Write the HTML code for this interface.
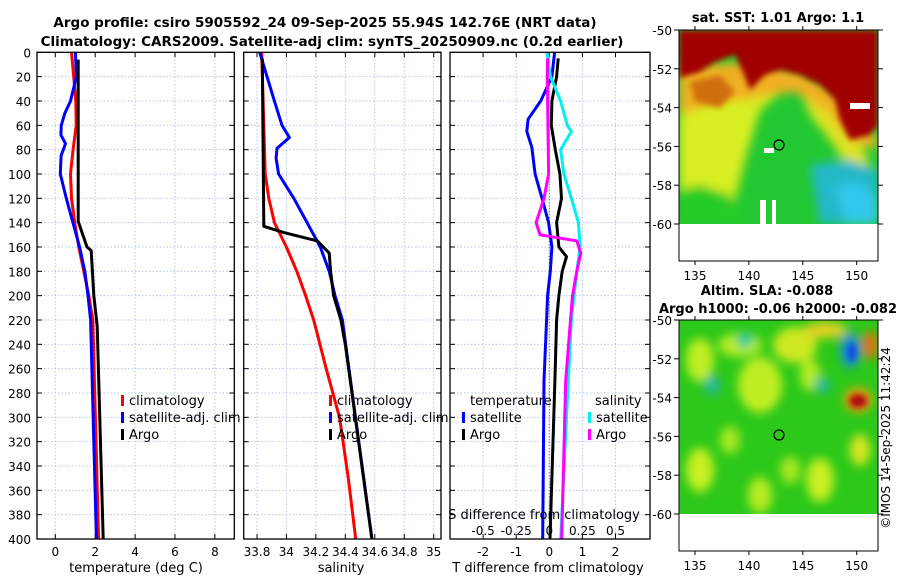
<!DOCTYPE html>
<html><head><meta charset="utf-8"><style>
body{margin:0;background:#fff;}
svg{display:block;font-family:"DejaVu Sans","Liberation Sans",sans-serif;}
</style></head><body>
<svg id="chart" width="900" height="580" viewBox="0 0 900 580" xmlns="http://www.w3.org/2000/svg">
<defs>
<filter id="bl" x="-20%" y="-20%" width="140%" height="140%"><feGaussianBlur stdDeviation="5"/></filter>
<filter id="bl2" x="-20%" y="-20%" width="140%" height="140%"><feGaussianBlur stdDeviation="3"/></filter>
<clipPath id="cm1"><rect x="679" y="30" width="199" height="194"/></clipPath>
<clipPath id="cm2"><rect x="679" y="320" width="199" height="194"/></clipPath>
</defs>
<text x="325" y="27" font-size="13.5" font-weight="bold" text-anchor="middle">Argo profile: csiro 5905592_24 09-Sep-2025 55.94S 142.76E (NRT data)</text>
<text x="332" y="46" font-size="13.5" font-weight="bold" text-anchor="middle">Climatology: CARS2009. Satellite-adj clim: synTS_20250909.nc (0.2d earlier)</text>

<!-- top map -->
<g>
<text x="778" y="22" font-size="13" font-weight="bold" text-anchor="middle">sat. SST: 1.01 Argo: 1.1</text>
<g clip-path="url(#cm1)">
<rect x="679" y="30" width="199" height="194" fill="#22c832"/>
<g filter="url(#bl)">
<polygon points="679,70 760,70 790,85 760,110 745,160 735,200 700,190 679,200" fill="#d8ee20"/>
<polygon points="679,190 700,185 730,195 745,224 679,224" fill="#28cc28"/>
<polygon points="800,90 840,105 860,140 870,165 850,170 830,140 810,115" fill="#e0e420"/>
<polygon points="810,165 850,160 878,170 878,224 820,224" fill="#20b8c8"/>
<polygon points="835,185 860,182 878,200 878,224 845,224" fill="#30c8ec"/>
<polygon points="679,65 760,62 800,72 840,95 870,130 878,140 878,150 850,140 825,110 795,92 770,95 745,100 720,100 700,108 679,115" fill="#f0b020"/>
</g>
<g filter="url(#bl2)">
<polygon points="679,30 878,30 878,125 870,135 850,140 840,120 835,100 820,85 800,75 780,70 765,75 750,90 742,70 735,55 715,62 700,72 679,78" fill="#a00000"/>
<polygon points="690,82 720,75 735,92 720,108 695,102" fill="#d07010"/>
</g>
<rect x="850" y="103" width="20" height="6" fill="#fff"/>
<rect x="764" y="148" width="10" height="5" fill="#fff"/>
<rect x="760" y="200" width="6" height="24" fill="#fff"/>
<rect x="772" y="200" width="4" height="24" fill="#fff"/>
</g>
<rect x="679" y="224" width="199" height="37" fill="#fff"/>
<rect x="679" y="30" width="199" height="231" fill="none" stroke="#000" stroke-width="1"/>
<circle cx="779" cy="145" r="5" fill="none" stroke="#000" stroke-width="1.2"/>
</g>

<!-- bottom map -->
<g>
<text x="767" y="295" font-size="13" font-weight="bold" text-anchor="middle">Altim. SLA: -0.088</text>
<text x="778" y="313" font-size="13" font-weight="bold" text-anchor="middle">Argo h1000: -0.06 h2000: -0.082</text>
<g clip-path="url(#cm2)">
<rect x="679" y="320" width="199" height="194" fill="#2cc81a"/>
<g filter="url(#bl)">
<ellipse cx="700" cy="360" rx="14" ry="22" fill="#c0ee20"/>
<ellipse cx="740" cy="345" rx="22" ry="12" fill="#b8ec20"/>
<ellipse cx="760" cy="385" rx="22" ry="28" fill="#c0ee20"/>
<ellipse cx="795" cy="345" rx="22" ry="18" fill="#d0e820"/>
<ellipse cx="825" cy="330" rx="22" ry="8" fill="#e8d020"/>
<ellipse cx="810" cy="375" rx="10" ry="16" fill="#b8ec20"/>
<ellipse cx="700" cy="470" rx="14" ry="22" fill="#c8f020"/>
<ellipse cx="730" cy="440" rx="10" ry="14" fill="#a8e820"/>
<ellipse cx="760" cy="495" rx="12" ry="18" fill="#b8ec20"/>
<ellipse cx="790" cy="470" rx="10" ry="14" fill="#a8e820"/>
<ellipse cx="820" cy="480" rx="14" ry="22" fill="#c8f020"/>
<ellipse cx="860" cy="450" rx="10" ry="16" fill="#d8e820"/>
<ellipse cx="745" cy="340" rx="8" ry="8" fill="#20c8a0"/>
<ellipse cx="712" cy="385" rx="8" ry="10" fill="#20b8a0"/>
<ellipse cx="822" cy="385" rx="8" ry="8" fill="#20b8a0"/>
<ellipse cx="850" cy="350" rx="10" ry="18" fill="#1890d0"/>
<ellipse cx="870" cy="345" rx="8" ry="14" fill="#e07010"/>
<ellipse cx="858" cy="400" rx="14" ry="12" fill="#f0a010"/>
</g>
<g filter="url(#bl2)">
<ellipse cx="852" cy="352" rx="5" ry="9" fill="#1050e0"/>
<ellipse cx="858" cy="401" rx="9" ry="7" fill="#b01010"/>
</g>
</g>
<rect x="679" y="514" width="199" height="37" fill="#fff"/>
<rect x="679" y="320" width="199" height="231" fill="none" stroke="#000" stroke-width="1"/>
<circle cx="779" cy="435" r="5" fill="none" stroke="#000" stroke-width="1.2"/>
</g>
<text transform="translate(890,438) rotate(-90)" font-size="12" text-anchor="middle">©IMOS 14-Sep-2025 11:42:24</text>
<g id="plots"></g>
</svg>
<script>
// ---- data ----
const depthTicks = [0,20,40,60,80,100,120,140,160,180,200,220,240,260,280,300,320,340,360,380,400];
const tTicks = [0,2,4,6,8];
const sTicks = [33.8,34,34.2,34.4,34.6,34.8,35];
const dTicksT = [-2,-1,0,1,2];
const dTicksS = [-0.5,-0.25,0,0.25,0.5];
const dTicksSLabels = ['-0.5','-0.25','0','0.25','0.5'];
const latTicks = [-50,-52,-54,-56,-58,-60];
const lonTicks = [135,140,145,150];

const tempClimDepth = [0,20,40,60,80,100,120,140,160,180,200,220,400];
const tempClim      = [0.81,0.92,1.03,1.05,0.89,0.76,0.81,0.97,1.18,1.43,1.68,1.88,2.17];
const tempSatDepth  = [0,20,40,50,60,68,75,85,100,120,140,160,180,200,220,400];
const tempSat       = [1.01,1.06,0.76,0.48,0.30,0.28,0.51,0.29,0.25,0.55,0.88,1.22,1.48,1.64,1.77,2.06];
const tempArgoDepth = [6,139,160,163,200,225,400];
const tempArgo      = [1.15,1.15,1.59,1.80,1.93,2.10,2.40];

const salClimDepth = [0,100,120,140,160,180,200,220,260,300,350,400];
const salClim      = [33.832,33.856,33.88,33.918,34.0,34.07,34.13,34.185,34.27,34.36,34.42,34.47];
const salSatDepth  = [0,20,40,60,70,79,87,100,120,140,160,180,200,220,400];
const salSat       = [33.818,33.868,33.918,33.97,34.02,33.936,33.93,33.947,34.05,34.14,34.23,34.29,34.33,34.38,34.58];
const salArgoDepth = [5,143,148,155,165,180,200,220,240,400];
const salArgo      = [33.836,33.846,33.98,34.21,34.29,34.30,34.32,34.37,34.40,34.58];

const dTSatDepth  = [0,20,40,55,65,78,100,120,140,160,180,200,270,400];
const dTSat       = [0.16,0.08,-0.26,-0.64,-0.68,-0.53,-0.43,-0.22,-0.02,0.08,0.03,-0.05,-0.16,-0.2];
const dTArgoDepth = [5,20,40,60,80,100,120,140,160,168,180,200,220,270,400];
const dTArgo      = [0.27,0.22,0.08,0.06,0.18,0.32,0.37,0.22,0.29,0.52,0.39,0.29,0.22,0.17,0.02];
const dSSatDepth  = [0,20,40,60,65,80,100,120,140,160,180,200,220,300,400];
const dSSat       = [-0.018,0.008,0.085,0.136,0.167,0.085,0.11,0.167,0.22,0.233,0.208,0.187,0.167,0.13,0.086];
const dSArgoDepth = [5,20,100,120,140,150,155,165,180,200,220,270,400];
const dSArgo      = [-0.013,-0.015,-0.005,-0.04,-0.1,-0.07,0.208,0.238,0.208,0.175,0.16,0.124,0.094];

// ---- layout ----
const NS='http://www.w3.org/2000/svg';
const root=document.getElementById('plots');
const Y0=52.3, Y1=539;
function yD(d){return Y0+(d/400)*(Y1-Y0);}
function mk(tag,attrs,parent){const e=document.createElementNS(NS,tag);for(const k in attrs)e.setAttribute(k,attrs[k]);(parent||root).appendChild(e);return e;}
function lin(d0,d1,r0,r1){return v=>r0+(v-d0)/(d1-d0)*(r1-r0);}

const panels=[
 {name:'temperature-panel',x0:37,x1:234.3,xs:lin(0,2,55.3,95.2)},
 {name:'salinity-panel',x0:243.7,x1:441,xs:lin(33.8,34.0,257,286.45)},
 {name:'difference-panel',x0:450,x1:650,xs:lin(0,1,549.3,582.4)}
];
const sScale=lin(0,0.25,549.3,582.4);

function gridPanel(p,xticks){
  const g=mk('g',{});
  
  
  xticks.forEach(v=>{const x=p.xs(v);
    const l=mk('line',{x1:x,x2:x,y1:Y0,y2:Y1,stroke:'#b8c4ec','stroke-width':1,'stroke-dasharray':'1.5,2'},g);
    
    
    mk('line',{x1:x,x2:x,y1:Y1,y2:Y1-5,stroke:'#000'},g);
    mk('line',{x1:x,x2:x,y1:Y0,y2:Y0+5,stroke:'#000'},g);
  });
  depthTicks.forEach(d=>{const y=yD(d);
    if(d>0&&d<400){const l=mk('line',{x1:p.x0,x2:p.x1,y1:y,y2:y,stroke:'#b8c4ec','stroke-width':1,'stroke-dasharray':'1.5,2'},g);
      
      }
    mk('line',{x1:p.x0,x2:p.x0+5,y1:y,y2:y,stroke:'#000'},g);
    mk('line',{x1:p.x1,x2:p.x1-5,y1:y,y2:y,stroke:'#000'},g);
  });
  return g;
}
function frame(p){const r=mk('rect',{x:p.x0,y:Y0,width:p.x1-p.x0,height:Y1-Y0,fill:'none',stroke:'#000','stroke-width':1.3});
  
  }
function series(depths,vals,xs,color,name){
  const pts=depths.map((d,i)=>xs(vals[i]).toFixed(1)+','+yD(d).toFixed(1)).join(' ');
  const l=mk('polyline',{points:pts,fill:'none',stroke:color,'stroke-width':3,'stroke-linejoin':'round'});
  
  
}
function txt(x,y,s,anchor,size,name){const t=mk('text',{x:x,y:y,'font-size':size||13,'text-anchor':anchor||'start'});t.textContent=s;
  
  return t;}
function legend(x,y,color,label,name){
  const r=mk('rect',{x:x,y:y-10,width:3,height:11,fill:color});
  
  
  txt(x+8,y,label,'start',13,name);
}

depthTicks.forEach(d=>txt(31,yD(d)+5,String(d),'end',12,'depth-tick-label'));

const p1=panels[0];
gridPanel(p1,tTicks);
series(tempClimDepth,tempClim,p1.xs,'#ff0000','temp-climatology-line');
series(tempSatDepth,tempSat,p1.xs,'#0000ff','temp-satellite-line');
series(tempArgoDepth,tempArgo,p1.xs,'#000000','temp-argo-line');
frame(p1);
tTicks.forEach(v=>txt(p1.xs(v),556,String(v),'middle',12,'temp-tick-label'));
txt(136,572,'temperature (deg C)','middle',13,'temp-axis-title');
legend(121,405,'#ff0000','climatology','legend-climatology');
legend(121,422,'#0000ff','satellite-adj. clim','legend-satellite');
legend(121,439,'#000000','Argo','legend-argo');

const p2=panels[1];
gridPanel(p2,sTicks);
series(salClimDepth,salClim,p2.xs,'#ff0000','sal-climatology-line');
series(salSatDepth,salSat,p2.xs,'#0000ff','sal-satellite-line');
series(salArgoDepth,salArgo,p2.xs,'#000000','sal-argo-line');
frame(p2);
sTicks.forEach(v=>txt(p2.xs(v),556,String(v),'middle',12,'sal-tick-label'));
txt(341,572,'salinity','middle',13,'sal-axis-title');
legend(329,405,'#ff0000','climatology','legend-sal-climatology');
legend(329,422,'#0000ff','satellite-adj. clim','legend-sal-satellite');
legend(329,439,'#000000','Argo','legend-sal-argo');

const p3=panels[2];
gridPanel(p3,dTicksT);
const z=mk('line',{x1:p3.xs(0),x2:p3.xs(0),y1:Y0,y2:Y1,stroke:'#555','stroke-width':1,'stroke-dasharray':'1,2'});


series(dTSatDepth,dTSat,p3.xs,'#0000ff','dT-satellite-line');
series(dTArgoDepth,dTArgo,p3.xs,'#000000','dT-argo-line');
series(dSSatDepth,dSSat,sScale,'#00f0f0','dS-satellite-line');
series(dSArgoDepth,dSArgo,sScale,'#ff00ff','dS-argo-line');
frame(p3);
dTicksT.forEach(v=>txt(p3.xs(v),556,String(v),'middle',12,'dT-tick-label'));
dTicksS.forEach((v,i)=>txt(sScale(v),535,dTicksSLabels[i],'middle',12,'dS-tick-label'));
txt(544,519,'S difference from climatology','middle',13,'dS-axis-title');
txt(548,572,'T difference from climatology','middle',13,'dT-axis-title');
txt(470,405,'temperature','start',13,'legend-temperature-header');
legend(462,422,'#0000ff','satellite','legend-dT-satellite');
legend(462,439,'#000000','Argo','legend-dT-argo');
txt(595,405,'salinity','start',13,'legend-salinity-header');
legend(588,422,'#00f0f0','satellite','legend-dS-satellite');
legend(588,439,'#ff00ff','Argo','legend-dS-argo');

const lonX=lin(135,150,695,856.7);
[[30,224,261],[320,514,551]].forEach((m,k)=>{
  const latY=lin(-50,-60,m[0],m[1]);
  latTicks.forEach(v=>{const y=latY(v);mk('line',{x1:679,x2:674,y1:y,y2:y,stroke:'#000'});
    mk('line',{x1:878,x2:883,y1:y,y2:y,stroke:'#000'});
    txt(672,y+5,String(v),'end',12,'lat-tick-label');});
  lonTicks.forEach(v=>{const x=lonX(v);mk('line',{x1:x,x2:x,y1:m[2],y2:m[2]+4,stroke:'#000'});
    mk('line',{x1:x,x2:x,y1:m[0],y2:m[0]-4,stroke:'#000'});
    txt(x,m[2]+19,String(v),'middle',12,'lon-tick-label');});
});
</script>
</body></html>
